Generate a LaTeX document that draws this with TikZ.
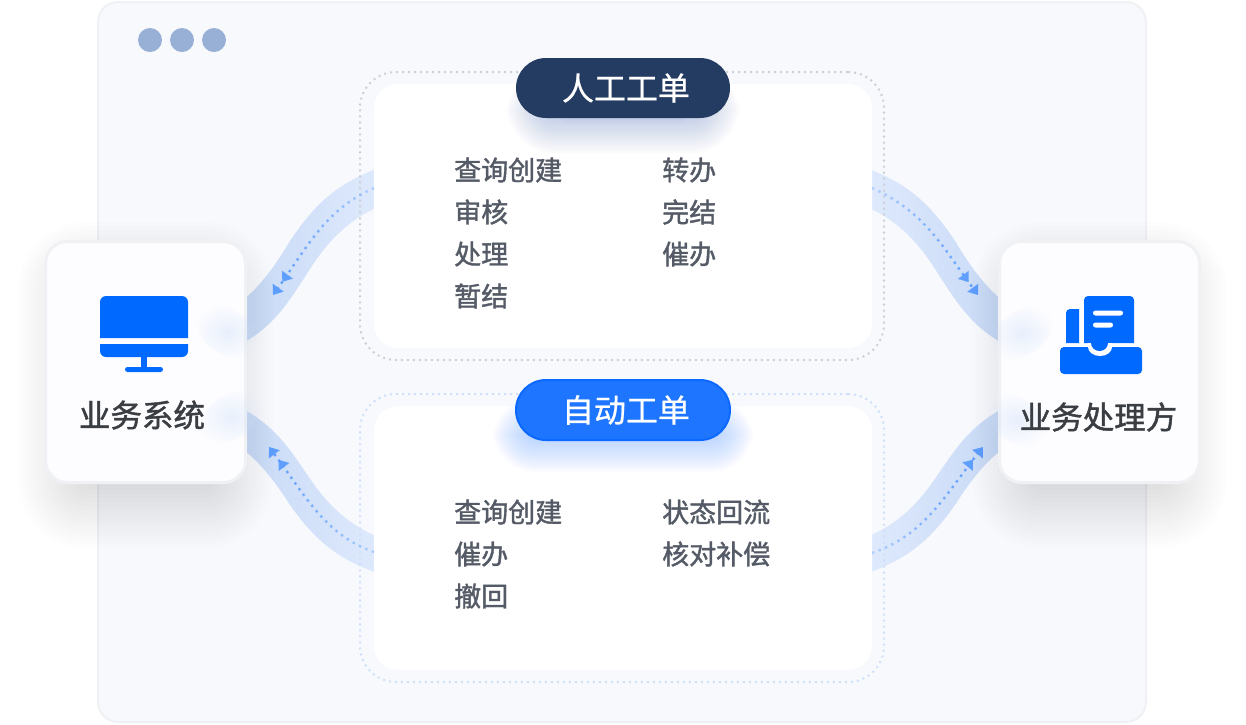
\documentclass[tikz,border=0pt]{standalone}
\usepackage{fontspec}
\setmainfont{Noto Sans CJK SC}
\newfontfamily\cnmedium[FakeBold=1.4]{Noto Sans CJK SC}
\newfontfamily\cnlight[FakeBold=0.6]{Noto Sans CJK SC}
\usetikzlibrary{arrows.meta,fadings}
\definecolor{windowbg}{HTML}{F8F9FD}
\definecolor{windowline}{HTML}{F0F1F4}
\definecolor{winddot}{HTML}{98B0D6}
\definecolor{iconblue}{HTML}{0069FF}
\definecolor{navy}{HTML}{243C62}
\definecolor{pillblue}{HTML}{1E75FF}
\definecolor{pillline}{HTML}{0B69FF}
\definecolor{itemtext}{HTML}{555B66}
\definecolor{cardtext}{HTML}{3A3D42}
\definecolor{cardbg}{HTML}{FDFDFF}
\definecolor{ribbonnear}{HTML}{C8DAF6}
\definecolor{ribbonmid}{HTML}{CFE0FA}
\definecolor{ribbonfar}{HTML}{DEE9FC}
\definecolor{flowblue}{HTML}{5C9DFF}
\definecolor{framegrey}{HTML}{CDD0D8}
\definecolor{frameblue}{HTML}{CFE0FB}
\definecolor{navyglow}{HTML}{5A78C8}
\tikzfading[name=glowfade,inner color=transparent!55,outer color=transparent!100]
\tikzfading[name=flowfade,left color=transparent!0,middle color=transparent!0,right color=transparent!65]
\tikzset{
	panel/.style={fill=white,rounded corners=24pt,minimum width=498pt,minimum height=264pt,inner sep=0pt},
	frame/.style={draw=#1,line width=2pt,dash pattern=on 2pt off 4pt,rounded corners=36pt,minimum width=524pt,minimum height=288pt,inner sep=0pt},
	pill/.style={rounded corners=30pt,minimum width=214pt,minimum height=60pt,inner sep=0pt,text=white,font=\cnlight\fontsize{32}{32}\selectfont},
	card/.style={draw=windowline,line width=3pt,fill=cardbg,rounded corners=22pt,minimum width=200pt,minimum height=241pt,inner sep=0pt},
	cardlabel/.style={text=cardtext,font=\cnmedium\fontsize{31.5}{32}\selectfont,inner sep=0pt},
	item/.style={anchor=west,text=itemtext,font=\cnmedium\fontsize{27}{27}\selectfont,inner sep=0pt},
	flow/.style={draw=flowblue,line width=2.4pt,dash pattern=on 2.4pt off 4.6pt},
	flowtip/.style={flow,-{Triangle[length=9pt,width=13pt,sep=7pt]Triangle[length=9pt,width=13pt]}},
	glow/.style={fill=#1,path fading=glowfade}
}
\newcommand{\ribbonshape}[3]{
	\begin{scope}[#1]
		\shade[left color=#2,middle color=ribbonmid,right color=#3] (376,169) .. controls (338,184) and (316,202) .. (290,241) .. controls (278,261) and (262,285) .. (243,300)
		-- (243,343) .. controls (275,325) and (290,300) .. (308,272) .. controls (325,245) and (345,222) .. (376,208) -- cycle;
	\end{scope}
}
\newcommand{\softshadow}[8]{
	\foreach \k in {0,...,23}{
		\pgfmathsetmacro{\d}{#5*(1-2*\k/23)}
		\pgfmathsetmacro{\r}{max(#6+\d,1)}
		\fill[#7,opacity=#8,rounded corners=\r pt] ({#1-\d},{#2-\d}) rectangle ({#3+\d},{#4+\d});
	}
}
\begin{document}
\begin{tikzpicture}[x=1pt,y=-1pt]
	\useasboundingbox (0,0) rectangle (1246,724);
	\node[draw=windowline,line width=2pt,fill=windowbg,rounded corners=20pt,minimum width=1048pt,minimum height=720pt,inner sep=0pt] (window) at (622,362) {};
	\foreach \i/\x in {1/150,2/182,3/214}{
		\node[circle,fill=winddot,minimum size=24pt,inner sep=0pt] (winddot\i) at (\x,40) {};
	}
	\ribbonshape{}{ribbonnear}{ribbonfar}
	\ribbonshape{xshift=1245pt,xscale=-1}{ribbonfar}{ribbonnear}
	\ribbonshape{yshift=-731.5pt,yscale=-0.94}{ribbonnear}{ribbonfar}
	\ribbonshape{xshift=1245pt,xscale=-1,yshift=-731.5pt,yscale=-0.94}{ribbonfar}{ribbonnear}
	\node[frame=framegrey] (frametop) at (622,216) {};
	\node[frame=frameblue] (framebottom) at (622,538) {};
	\node[panel] (paneltop) at (623,216) {};
	\node[panel] (panelbottom) at (623,538) {};
	\coordinate (flowstartA) at (374,188);
	\coordinate (flowendA) at (273,295);
	\coordinate (flowstartB) at (872,188);
	\coordinate (flowendB) at (978,295);
	\coordinate (flowstartC) at (374,552);
	\coordinate (flowendC) at (269,447);
	\coordinate (flowstartD) at (872,553);
	\coordinate (flowendD) at (983,447);
	\draw[flowtip,path fading=flowfade] (flowstartA) .. controls (325,210) and (308,246) .. (flowendA);
	\draw[flowtip,path fading=flowfade,fading angle=180] (flowstartB) .. controls (925,212) and (942,246) .. (flowendB);
	\draw[flowtip,path fading=flowfade] (flowstartC) .. controls (325,535) and (305,495) .. (flowendC);
	\draw[flowtip,path fading=flowfade,fading angle=180] (flowstartD) .. controls (925,535) and (945,495) .. (flowendD);
	\softshadow{535}{95}{711}{125}{28}{20}{navyglow}{0.025}
	\softshadow{515}{420}{731}{450}{22}{20}{pillblue}{0.016}
	\node[pill,fill=navy] (pilltop) at (623,88) {\hspace*{6pt}\raisebox{-1pt}{人工工单}};
	\node[pill,fill=pillblue,draw=pillline,line width=2pt] (pillbottom) at (623,410) {\hspace*{6pt}\raisebox{-1pt}{自动工单}};
	\foreach \i/\label/\x/\y in {1/查询创建/454/170,2/审核/454/212,3/处理/454/254,4/暂结/454/296,5/转办/662/170,6/完结/662/212,7/催办/662/254}{
		\node[item] (itemtop\i) at (\x,\y) {\label};
	}
	\foreach \i/\label/\x/\y in {1/查询创建/454/512,2/催办/454/554,3/撤回/454/596,4/状态回流/662/512,5/核对补偿/662/554}{
		\node[item] (itembottom\i) at (\x,\y) {\label};
	}
	\softshadow{66}{270}{225}{500}{48}{20}{black}{0.0075}
	\softshadow{1020}{270}{1179}{500}{48}{20}{black}{0.0075}
	\node[card] (cardleft) at (145.5,362) {};
	\node[card] (cardright) at (1099.5,362) {};
	\fill[glow=ribbonmid,rotate around={-35:(227,332)}] (227,332) ellipse (34 and 22);
	\fill[glow=ribbonmid,rotate around={35:(231,417)}] (231,417) ellipse (34 and 22);
	\fill[glow=ribbonmid,rotate around={35:(1022,333)}] (1022,333) ellipse (34 and 22);
	\fill[glow=ribbonmid,rotate around={-35:(1016,420)}] (1016,420) ellipse (34 and 22);
	\fill[iconblue] (100,338) -- (100,302) arc (180:270:6) -- (182,296) arc (270:360:6) -- (188,338) -- cycle;
	\fill[iconblue] (188,344) -- (188,351) arc (0:90:6) -- (106,357) arc (90:180:6) -- (100,344) -- cycle;
	\fill[iconblue] (141,356) rectangle (147,368);
	\fill[iconblue,rounded corners=2.5pt] (125,367) rectangle (163,372);
	\fill[iconblue] (1066,343) -- (1066,313) arc (180:270:4) -- (1079,309) -- (1079,343) -- cycle;
	\fill[iconblue] (1084,343) -- (1084,300) arc (180:270:4) -- (1130,296) arc (270:360:4) -- (1134,343) -- cycle;
	\fill[iconblue,rounded corners=4pt] (1060,347) rectangle (1142,374);
	\fill[cardbg] (1112,343) -- (1112,347) arc (0:180:12 and 9) -- (1088,343) -- cycle;
	\fill[iconblue] (1108,340) -- (1108,343) arc (0:180:8.5 and 8) -- (1091,340) -- cycle;
	\fill[white,rounded corners=2.5pt] (1093,310.5) rectangle (1123,315.5);
	\fill[white,rounded corners=2.5pt] (1093,322.5) rectangle (1113,327.5);
	\node[cardlabel] (labelleft) at (142,415) {业务系统};
	\node[cardlabel] (labelright) at (1098.5,417) {业务处理方};
\end{tikzpicture}
\end{document}
